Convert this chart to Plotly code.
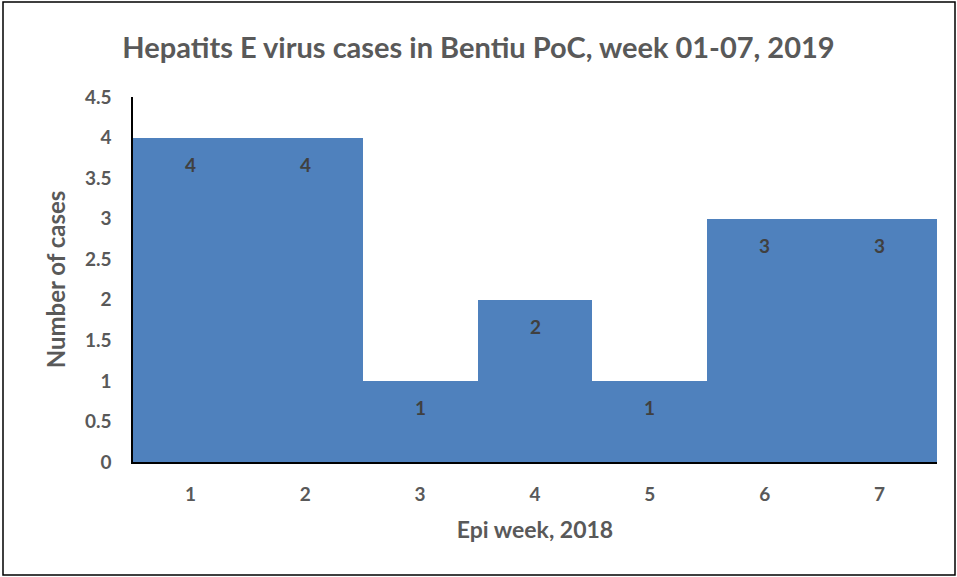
import plotly.graph_objects as go

# epi weeks and case counts
weeks = ["1", "2", "3", "4", "5", "6", "7"]
cases = [4, 4, 1, 2, 1, 3, 3]
y_ticks = [0, 0.5, 1, 1.5, 2, 2.5, 3, 3.5, 4, 4.5]

GREY = "#595959"
FONT = "Lato"

fig = go.Figure()
fig.add_trace(go.Bar(
    x=weeks, y=cases,
    marker=dict(color="#4F81BD", line=dict(width=0)),
    hoverinfo="x+y",
))

# data labels just under the bar tops (x as category index)
for i, c in enumerate(cases):
    fig.add_annotation(
        x=i, y=c, text=str(c), showarrow=False,
        yshift=-27, font=dict(family=FONT, size=19, color="#404040", weight="bold"),
    )

# black frame around the whole chart (paper coords from pixel positions)
L, R, T, B = 133, 937, 97, 462
def px(p): return (p - L) / (R - L)
def py(p): return (B - p) / (B - T)
fig.add_shape(type="rect", xref="paper", yref="paper",
              x0=px(3), x1=px(955), y0=py(575), y1=py(2),
              line=dict(color="black", width=1.5), layer="below")

fig.update_layout(
    width=957, height=577,
    margin=dict(l=L, r=957 - R, t=T, b=577 - B),
    plot_bgcolor="white", paper_bgcolor="white",
    bargap=0, showlegend=False,
    title=dict(
        text="Hepatits E virus cases in Bentiu PoC, week 01-07, 2019",
        x=0.5, xanchor="center", y=1 - 48 / 577, yanchor="middle",
        font=dict(family=FONT, size=29, color=GREY, weight="bold"),
    ),
    font=dict(family=FONT, color=GREY),
)
fig.update_xaxes(
    type="category", automargin=False, range=[-0.5, 6.5],
    showline=True, linecolor="black", linewidth=1.5,
    ticks="", showgrid=False, ticklabelstandoff=14,
    tickfont=dict(family=FONT, size=19, color=GREY, weight="bold"),
    title=dict(text="Epi week, 2018", standoff=18,
               font=dict(family=FONT, size=23, color=GREY, weight="bold")),
)
fig.update_yaxes(
    automargin=False,
    range=[0, 4.5], tickvals=y_ticks,
    showline=True, linecolor="black", linewidth=1.5,
    ticks="", showgrid=False, zeroline=False, ticklabelstandoff=16,
    tickfont=dict(family=FONT, size=19, color=GREY, weight="bold"),
    title=dict(text="Number of cases", standoff=12,
               font=dict(family=FONT, size=24, color=GREY, weight="bold")),
)

# page body margin would shift the figure by 8px
fig.write_html("out.html", config={"displayModeBar": False},
               post_script="document.body.style.margin='0';")
